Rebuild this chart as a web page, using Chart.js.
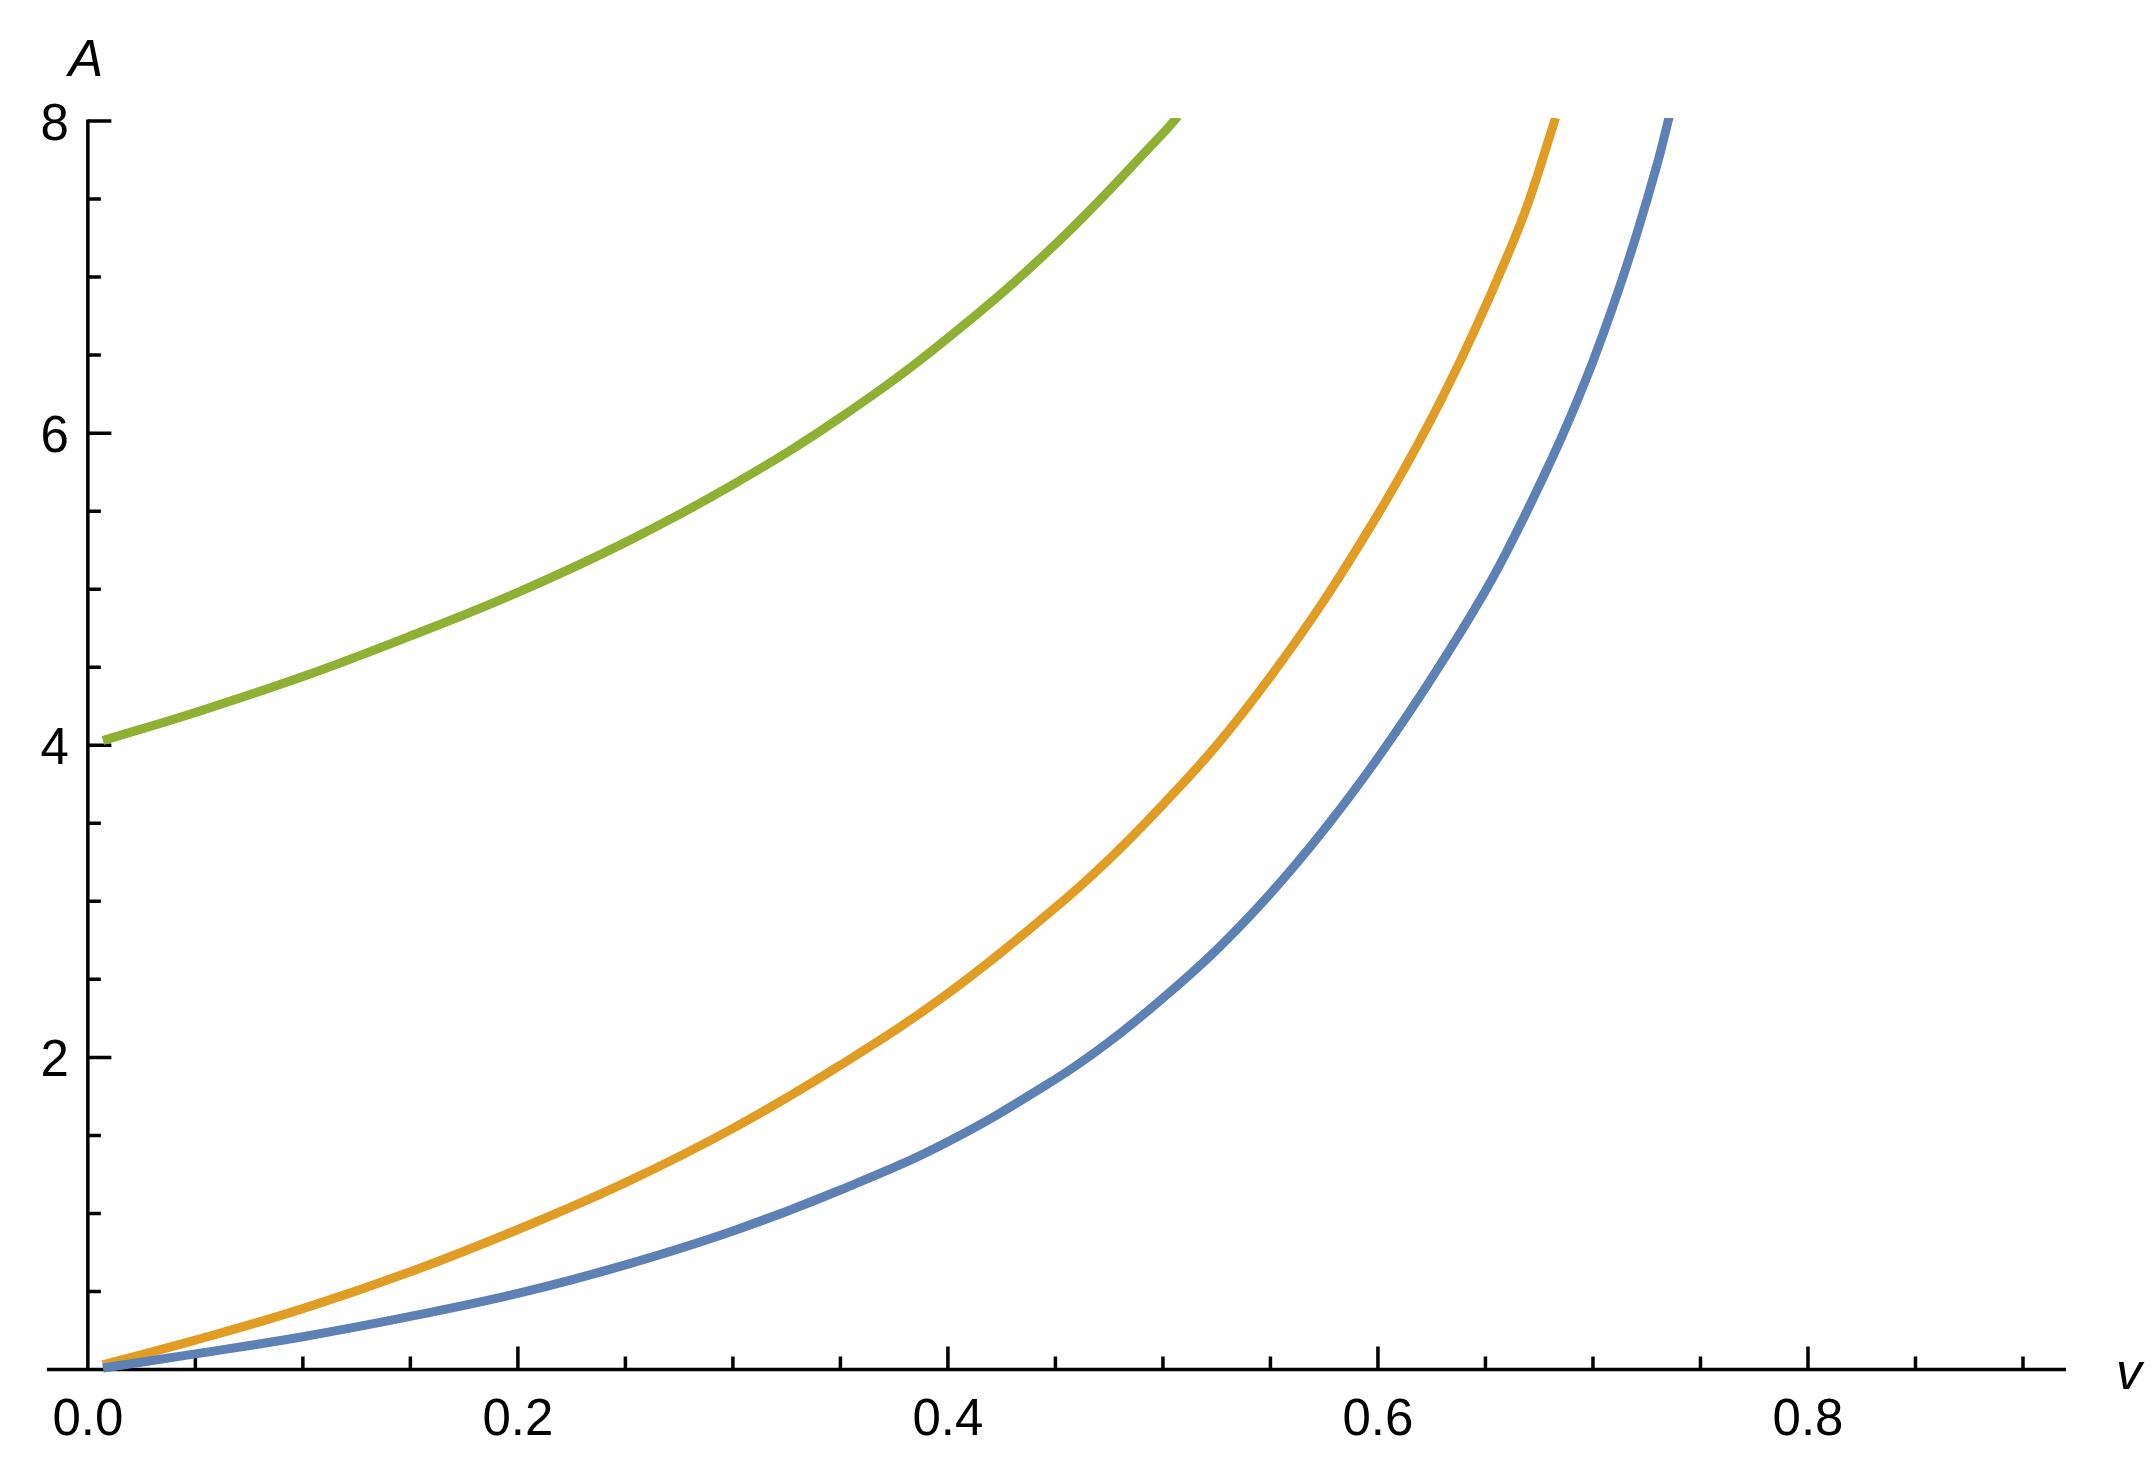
<!DOCTYPE html>
<html>
<head>
<meta charset="utf-8">
<script src="https://cdn.jsdelivr.net/npm/chart.js@4/dist/chart.umd.min.js"></script>
<style>
html,body{margin:0;padding:0;background:#ffffff;}
#wrap{width:2155px;height:1460px;}
</style>
</head>
<body>
<div id="wrap"><canvas id="c" width="2155" height="1460"></canvas></div>
<script>
// ---- data ----
const blueV = [0.007, 0.05, 0.1, 0.15, 0.2, 0.25, 0.3, 0.35, 0.4, 0.45, 0.475, 0.5, 0.525, 0.55, 0.575, 0.6, 0.625, 0.65, 0.665, 0.68, 0.69, 0.70, 0.71, 0.72, 0.73, 0.7355];
const blueA = [0.01, 0.10, 0.21, 0.34, 0.487, 0.67, 0.887, 1.15, 1.46, 1.86, 2.10, 2.38, 2.69, 3.05, 3.46, 3.92, 4.43, 4.99, 5.38, 5.81, 6.12, 6.46, 6.84, 7.26, 7.73, 8.03];

const orangeV = [0.007, 0.05, 0.1, 0.15, 0.2, 0.25, 0.3, 0.35, 0.4, 0.45, 0.475, 0.5, 0.525, 0.55, 0.575, 0.6, 0.615, 0.63, 0.645, 0.66, 0.67, 0.6826];
const orangeA = [0.03, 0.188, 0.39, 0.626, 0.897, 1.197, 1.545, 1.95, 2.41, 2.96, 3.27, 3.62, 4.00, 4.44, 4.93, 5.48, 5.84, 6.23, 6.66, 7.13, 7.48, 8.02];

const greenV = [0.007, 0.05, 0.1, 0.15, 0.2, 0.25, 0.3, 0.35, 0.4, 0.45, 0.5, 0.507];
const greenA = [4.03, 4.21, 4.44, 4.70, 4.98, 5.30, 5.67, 6.10, 6.61, 7.21, 7.92, 8.03];

const xMajorTicks = [0, 0.2, 0.4, 0.6, 0.8];
const xTickLabels = ['0.0', '0.2', '0.4', '0.6', '0.8'];
const xMinorTicks = [0.05, 0.1, 0.15, 0.25, 0.3, 0.35, 0.45, 0.5, 0.55, 0.65, 0.7, 0.75, 0.85, 0.9];
const yMajorTicks = [2, 4, 6, 8];
const yTickLabels = ['2', '4', '6', '8'];
const yMinorTicks = [0.5, 1, 1.5, 2.5, 3, 3.5, 4.5, 5, 5.5, 6.5, 7, 7.5];
const xAxisTitle = 'v';
const yAxisTitle = 'A';
const xMin = -0.019, xMax = 0.92, yMin = 0, yMax = 8;

// ---- styling ----
const FONT = '"Liberation Sans", Arial, sans-serif';
function pts(v, a) { return v.map((x, i) => ({ x: x, y: a[i] })); }

const axesPlugin = {
  id: 'mmaAxes',
  beforeDatasetsDraw(chart) {
    const ctx = chart.ctx, xs = chart.scales.x, ys = chart.scales.y;
    const x0 = xs.getPixelForValue(0), y0 = ys.getPixelForValue(0);
    ctx.save();
    ctx.strokeStyle = '#000';
    ctx.fillStyle = '#000';
    ctx.lineWidth = 3.5;
    ctx.lineCap = 'butt';
    // axis lines
    ctx.beginPath();
    ctx.moveTo(xs.left, y0); ctx.lineTo(xs.right, y0);
    ctx.moveTo(x0, y0); ctx.lineTo(x0, ys.getPixelForValue(yMax) - 1.5);
    ctx.stroke();
    // x ticks (inward)
    ctx.beginPath();
    xMajorTicks.forEach(t => { const p = xs.getPixelForValue(t); if (t !== 0) { ctx.moveTo(p, y0); ctx.lineTo(p, y0 - 23); } });
    xMinorTicks.forEach(t => { const p = xs.getPixelForValue(t); ctx.moveTo(p, y0); ctx.lineTo(p, y0 - 13); });
    // y ticks (inward)
    yMajorTicks.forEach(t => { const p = ys.getPixelForValue(t); ctx.moveTo(x0, p); ctx.lineTo(x0 + 23.5, p); });
    yMinorTicks.forEach(t => { const p = ys.getPixelForValue(t); ctx.moveTo(x0, p); ctx.lineTo(x0 + 13, p); });
    ctx.stroke();
    // tick labels
    ctx.font = '51px ' + FONT;
    ctx.textBaseline = 'alphabetic';
    ctx.textAlign = 'center';
    xMajorTicks.forEach((t, i) => { ctx.fillText(xTickLabels[i], xs.getPixelForValue(t), y0 + 65.5); });
    ctx.textAlign = 'right';
    yMajorTicks.forEach((t, i) => { ctx.fillText(yTickLabels[i], x0 - 19, ys.getPixelForValue(t) + 19); });
    // axis titles
    ctx.font = 'italic 52px ' + FONT;
    ctx.textAlign = 'center';
    ctx.fillText(yAxisTitle, x0 - 2, 76);
    ctx.fillText(xAxisTitle, xs.right + 63, y0 + 19);
    ctx.restore();
  }
};

const common = {
  showLine: true,
  pointRadius: 0,
  pointHoverRadius: 0,
  borderWidth: 9,
  fill: false,
  tension: 0.4,
  clip: { left: false, right: false, bottom: false, top: 3 }
};

new Chart(document.getElementById('c'), {
  type: 'scatter',
  data: {
    datasets: [
      Object.assign({ label: 'blue', data: pts(blueV, blueA), borderColor: '#5E81B5', backgroundColor: '#5E81B5' }, common),
      Object.assign({ label: 'orange', data: pts(orangeV, orangeA), borderColor: '#E19C24', backgroundColor: '#E19C24' }, common),
      Object.assign({ label: 'green', data: pts(greenV, greenA), borderColor: '#8FB032', backgroundColor: '#8FB032' }, common)
    ]
  },
  options: {
    responsive: false,
    devicePixelRatio: 1,
    animation: false,
    events: [],
    layout: { padding: { left: 47, right: 89, top: 121, bottom: 90.5 } },
    plugins: { legend: { display: false }, tooltip: { enabled: false } },
    scales: {
      x: { type: 'linear', min: xMin, max: xMax, display: false },
      y: { type: 'linear', min: yMin, max: yMax, display: false }
    }
  },
  plugins: [axesPlugin]
});
</script>
</body>
</html>
